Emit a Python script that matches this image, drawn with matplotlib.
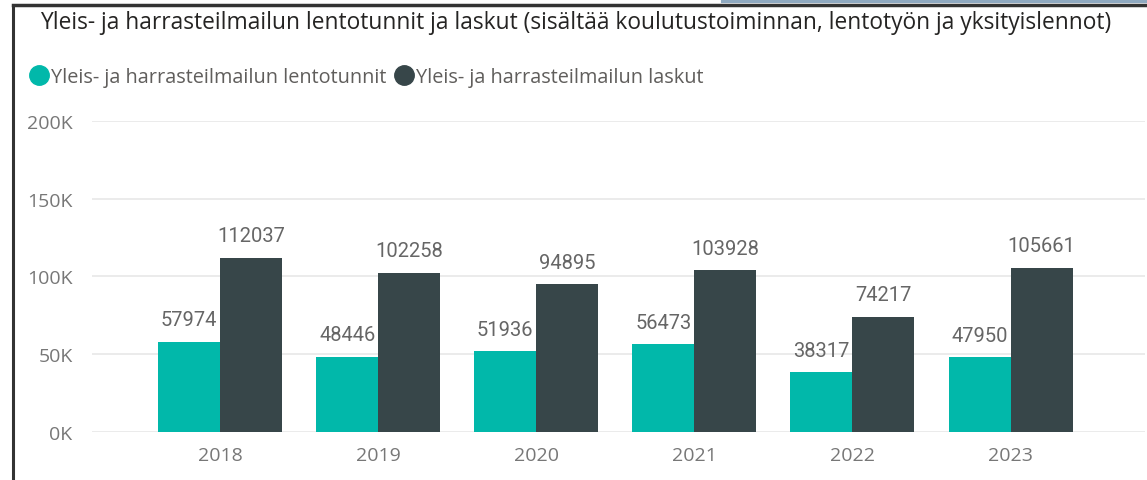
import numpy as np
import matplotlib.pyplot as plt
from matplotlib.lines import Line2D

years = ['2018', '2019', '2020', '2021', '2022', '2023']
lentotunnit = [57974, 48446, 51936, 56473, 38317, 47950]
laskut = [112037, 102258, 94895, 103928, 74217, 105661]
y_ticks = [0, 50000, 100000, 150000, 200000]
y_labels = ['0K', '50K', '100K', '150K', '200K']

title = 'Yleis- ja harrasteilmailun lentotunnit ja laskut (sisältää koulutustoiminnan, lentotyön ja yksityislennot)'
name1 = 'Yleis- ja harrasteilmailun lentotunnit'
name2 = 'Yleis- ja harrasteilmailun laskut'

teal = '#01B8AA'
dark = '#374649'

plt.rcParams['font.family'] = ['Open Sans', 'DejaVu Sans']

fig = plt.figure(figsize=(11.47, 4.81), dpi=100)
fig.patch.set_facecolor('white')
ax = fig.add_axes([0.0802, 0.0998, 0.918, 0.6466])

x = np.arange(len(years))
w = 0.392
ax.bar(x - w / 2, lentotunnit, w, color=teal, zorder=3)
ax.bar(x + w / 2, laskut, w, color=dark, zorder=3)

# value labels
for i in range(len(years)):
    ax.annotate(str(lentotunnit[i]), (x[i] - w / 2, lentotunnit[i]), xytext=(0, 9),
                textcoords='offset points', ha='center', va='bottom',
                fontsize=14.5, color='#666666', family=['Roboto', 'DejaVu Sans'], zorder=4)
    ax.annotate(str(laskut[i]), (x[i] + w / 2, laskut[i]), xytext=(0, 9),
                textcoords='offset points', ha='center', va='bottom',
                fontsize=14.5, color='#666666', family=['Roboto', 'DejaVu Sans'], zorder=4)

ax.set_xlim(-0.81, 5.85)
ax.set_ylim(0, 200000)
ax.set_yticks(y_ticks)
ax.set_yticklabels(y_labels)
ax.set_xticks(x)
ax.set_xticklabels(years)
ax.grid(axis='y', color='#E8E8E8', linewidth=1.2, zorder=0)
for s in ax.spines.values():
    s.set_visible(False)
ax.tick_params(length=0, labelsize=14, colors='#777777')
ax.tick_params(axis='y', pad=14)
ax.tick_params(axis='x', pad=10)

# title and legend
fig.text(0.502, 0.953, title, ha='center', va='center', fontsize=16.4, color='#252423')
handles = [Line2D([], [], marker='o', linestyle='', markersize=14, color=teal),
           Line2D([], [], marker='o', linestyle='', markersize=14, color=dark)]
fig.legend(handles, [name1, name2], loc='center left', bbox_to_anchor=(0.008, 0.838),
           ncol=2, frameon=False, fontsize=14.3, labelcolor='#605E5C',
           handletextpad=0.0, columnspacing=0.3, handlelength=1.2)

# screenshot frame
fig.add_artist(Line2D([0.011, 0.011], [0, 0.985], color='#333333', linewidth=2.2))
fig.add_artist(Line2D([0.011, 1.0], [0.988, 0.988], color='#333333', linewidth=2.5))
fig.add_artist(Line2D([0.63, 1.0], [0.996, 0.996], color='#8FA9C0', linewidth=3))

fig.savefig('out.png', dpi=100)
